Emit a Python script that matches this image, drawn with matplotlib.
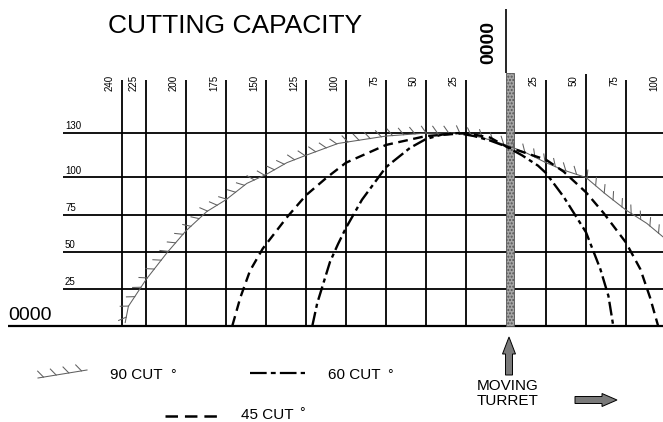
import matplotlib
matplotlib.use("Agg")
import matplotlib.pyplot as plt
from matplotlib import patheffects
from matplotlib.patches import Rectangle

plt.rcParams['font.family'] = ['Liberation Sans', 'DejaVu Sans']
plt.rcParams['lines.scale_dashes'] = False

#---------------- data (mm) ----------------
left_ticks = [240, 225, 200, 175, 150, 125, 100, 75, 50, 25]
right_ticks = [25, 50, 75, 100]
height_ticks = [25, 50, 75, 100, 130]

# 90 degree cut (sawtooth curve), left side negative
cut90_x = [-238, -236, -225, -212, -200, -187, -175, -162, -150, -137, -125, -105,
           -75, -50, -30, -15, 0, 12, 25, 36, 50, 62, 75, 88, 98]
cut90_y = [2, 13, 31, 49, 64, 77, 85, 96, 102, 110, 115, 123,
           128, 130, 130, 127, 122, 117, 110, 105, 100, 89, 78, 69, 60]

# 60 degree cut (dash-dot)
cut60_x = [-121, -118, -114, -110, -105, -100, -90, -75, -60, -50, -40, -30,
           -20, -10, 0, 10, 20, 25, 36, 50, 59, 64, 67]
cut60_y = [0, 15, 29, 43, 55, 66, 85, 107, 120, 126, 129, 130,
           128, 125, 121, 115, 108, 103, 87, 63, 38, 20, 0]

# 45 degree cut (dashed)
cut45_x = [-171, -166, -160, -152, -137, -125, -112, -100, -75, -50, -25, -10,
           0, 25, 36, 50, 61, 75, 84, 90, 95]
cut45_y = [0, 19, 37, 52, 73, 88, 100, 110, 122, 128, 130, 127,
           121, 112, 104, 90, 76, 56, 38, 19, 0]

#---------------- page layout (pixels of the 663x422 sheet) ----------------
X0, SX = 506.0, 1.6     # px of the zero line, px per mm
Y0, SY = 325.5, 1.48    # px of the base line, px per mm
W, H = 663, 422

def hx(px):
    return (px - X0) / SX

def hy(py):
    return (Y0 - py) / SY

fig = plt.figure(figsize=(W / 100, H / 100), dpi=100)
ax = fig.add_axes([0, 0, 1, 1])
ax.set_xlim(hx(0), hx(W))
ax.set_ylim(hy(H), hy(0))
ax.axis('off')

# overlay in pixel units for title / legend / arrows
lay = fig.add_axes([0, 0, 1, 1], zorder=3)
lay.set_xlim(0, W)
lay.set_ylim(H, 0)
lay.axis('off')
lay.patch.set_alpha(0)

#---------------- grid ----------------
top = hy(80)
for t in left_ticks:
    ax.vlines(-t, 0, top, color='black', lw=1.3, zorder=1)
    ax.text(-t - 7.5, hy(75), str(t), rotation=90, ha='center', va='top', fontsize=7)
for t in right_ticks:
    ax.vlines(t, 0, hy(74) if t == 50 else top, color='black', lw=1.3, zorder=1)
    ax.text(t - 7.5, hy(75), str(t), rotation=90, ha='center', va='top', fontsize=7)

for h in height_ticks:
    ax.hlines(h, hx(63), hx(W), color='black', lw=1.3, zorder=1)
    ax.text(hx(65), h + 1.2, str(h), ha='left', va='bottom', fontsize=7)
ax.hlines(0, hx(8), hx(W), color='black', lw=1.6, zorder=1)

# moving turret bar and zero line
bar_top = hy(73)
ax.add_patch(Rectangle((0, 0), 5, bar_top, facecolor='#a6a6a6', edgecolor='#555555',
                       hatch='.....', lw=0.6, zorder=2))
ax.vlines(0, bar_top, hy(9), color='black', lw=1.2)

#---------------- curves ----------------
saw = [patheffects.withTickedStroke(spacing=8, angle=125, length=0.75)]
ax.plot(cut90_x, cut90_y, color='#606060', lw=0.75, path_effects=saw, zorder=4)
ax.plot(cut60_x, cut60_y, color='black', lw=1.7, ls=(0, (10, 3, 3, 3)), zorder=4)
ax.plot(cut45_x, cut45_y, color='black', lw=1.7, ls=(0, (7, 4)), zorder=4)

#---------------- texts ----------------
lay.text(108, 33, 'CUTTING CAPACITY', fontsize=19, va='baseline')
lay.text(489, 43, '0000', rotation=90, fontsize=14, weight='bold', ha='center', va='center')
lay.text(8, 320, '0000', fontsize=14, va='baseline')

# legend
lay.plot([38, 87], [378, 370], color='#606060', lw=0.75, path_effects=saw)
lay.text(110, 379, '90 CUT', fontsize=11, va='baseline')
lay.text(170, 379, '°', fontsize=10, va='baseline')

lay.plot([250, 305], [373, 373], color='black', lw=1.6, ls=(0, (12, 3, 3.5, 3)))
lay.text(328, 379, '60 CUT', fontsize=11, va='baseline')
lay.text(387, 379, '°', fontsize=10, va='baseline')

lay.plot([165, 221], [416, 416], color='black', lw=1.8, ls=(0, (9, 5)))
lay.text(241, 419, '45 CUT', fontsize=11, va='baseline')
lay.text(299, 417, '°', fontsize=10, va='baseline')

# turret arrows
lay.arrow(509, 375, 0, -38, width=7, head_width=13, head_length=17,
          length_includes_head=True, facecolor='#7a7a7a', edgecolor='black', lw=0.7)
lay.text(508, 390, 'MOVING', fontsize=11, ha='center', va='baseline')
lay.text(508, 405, 'TURRET', fontsize=11, ha='center', va='baseline')
lay.arrow(575, 400, 42, 0, width=7, head_width=13, head_length=15,
          length_includes_head=True, facecolor='#7a7a7a', edgecolor='black', lw=0.7)

fig.savefig('out.png', dpi=100)
